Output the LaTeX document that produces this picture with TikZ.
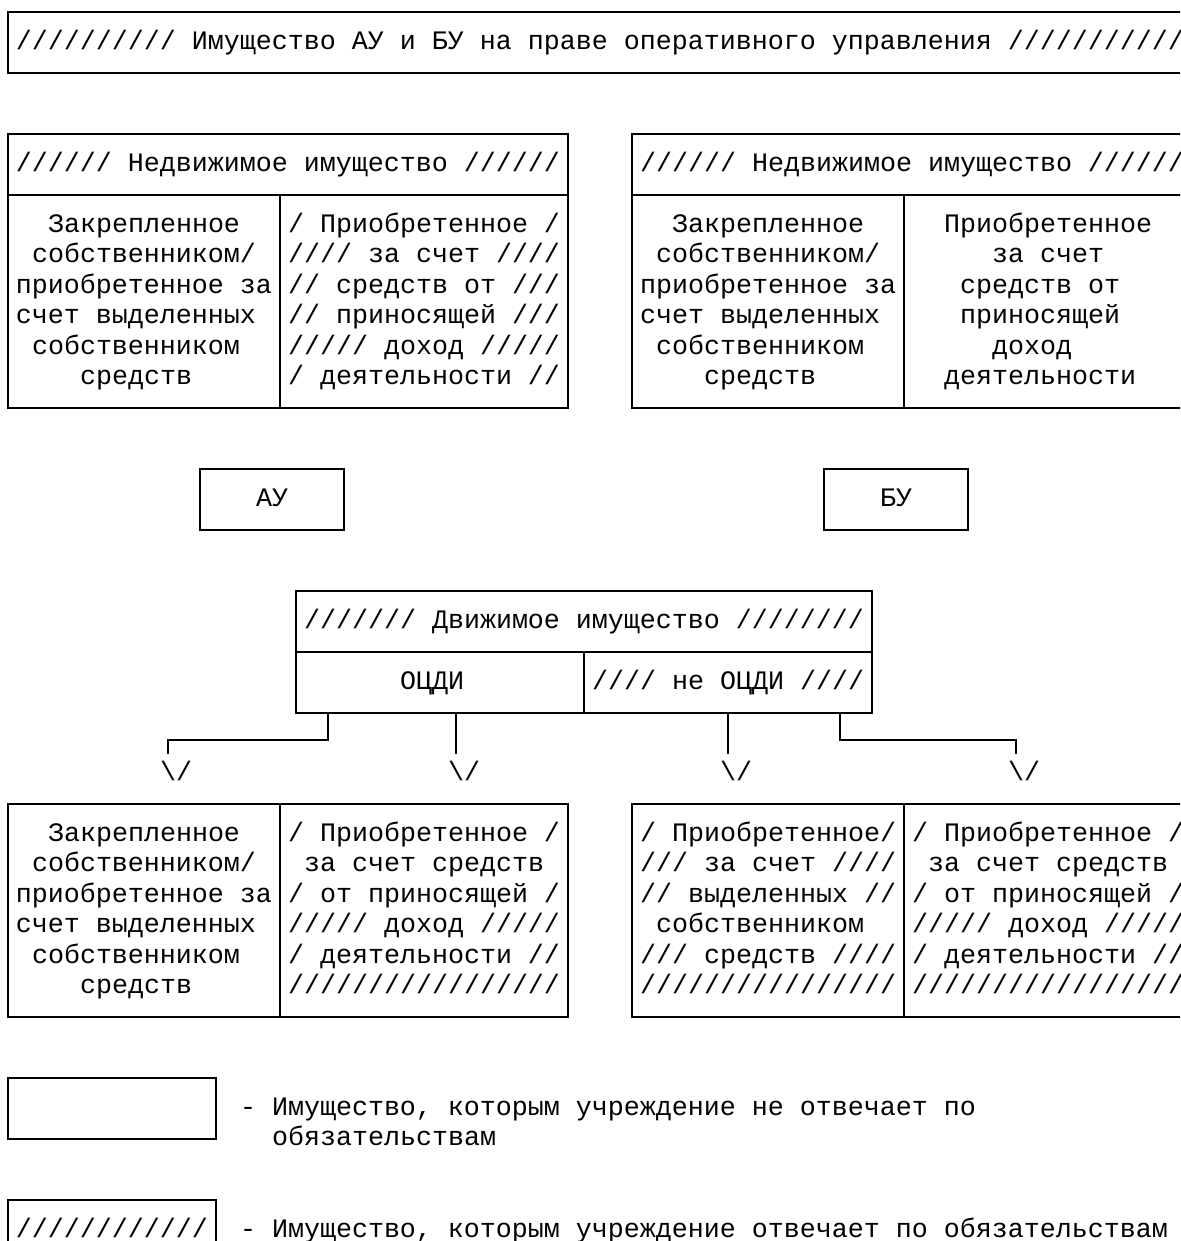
\documentclass[tikz,border=0pt]{standalone}
\usepackage{fontspec}
\newfontfamily\mono{Liberation Mono}
\frenchspacing

% one cell of the table grid: name, col1, row1, col2, row2
\newcommand\cell[5]{%
  \node[box, minimum width={(#4-#2)*8pt}, minimum height={(#5-#3)*15.225pt}]
    (#1) at ({(#2+#4)/2},{(#3+#5)/2}) {};}
% lines of text, one per row: first col, first row, list
\newcommand\rows[3]{%
  \foreach \s [count=\k from 0] in {#3} {
    \node[txt] (t#1-#2-\k) at ({#1-0.5},{#2+\k+0.22}) {\s};
  }}

\begin{document}
\begin{tikzpicture}[x=8pt, y=-15.225pt,
    box/.style={draw, line width=1pt, inner sep=0pt, outer sep=0pt},
    txt/.style={anchor=base west, inner sep=0pt, outer sep=0pt,
      font=\mono\fontsize{13.333pt}{15.225pt}\selectfont},
    conn/.style={line width=1pt}]
    \useasboundingbox (-0.5,-0.41) rectangle (73.25,40.345);
    \fill[white] (-0.5,-0.41) rectangle (73.25,40.345);
    \clip (-0.5,-0.41) rectangle (73.25,40.345);

    \cell{top}{0}{0}{74}{2}
    \rows{1}{1}{{////////// Имущество АУ и БУ на праве оперативного управления ///////////}}

    % immovable property
    \cell{nedvL}{0}{4}{35}{6}
    \cell{nedvLa}{0}{6}{17}{13}
    \cell{nedvLb}{17}{6}{35}{13}
    \rows{1}{5}{////// Недвижимое имущество //////}
    \rows{1}{7}{~~Закрепленное, ~собственником/, приобретенное за,
      счет выделенных, ~собственником, ~~~~средств}
    \rows{18}{7}{/ Приобретенное /, //// за счет ////, // средств от ///,
      // приносящей ///, ///// доход /////, / деятельности //}

    \cell{nedvR}{39}{4}{74}{6}
    \cell{nedvRa}{39}{6}{56}{13}
    \cell{nedvRb}{56}{6}{74}{13}
    \rows{40}{5}{////// Недвижимое имущество //////}
    \rows{40}{7}{~~Закрепленное, ~собственником/, приобретенное за,
      счет выделенных, ~собственником, ~~~~средств}
    \rows{57}{7}{~~Приобретенное, ~~~~~за счет, ~~~средств от,
      ~~~приносящей, ~~~~~доход, ~~деятельности}

    \cell{au}{12}{15}{21}{17}
    \rows{16}{16}{АУ}
    \cell{bu}{51}{15}{60}{17}
    \rows{55}{16}{БУ}

    % movable property
    \cell{dvizh}{18}{19}{54}{21}
    \cell{ocdi}{18}{21}{36}{23}
    \cell{neocdi}{36}{21}{54}{23}
    \rows{19}{20}{/////// Движимое имущество ////////}
    \rows{25}{22}{ОЦДИ}
    \rows{37}{22}{//// не ОЦДИ ////}

    \coordinate (e1) at (10,24.35);
    \coordinate (e2) at (28,24.35);
    \coordinate (e3) at (45,24.35);
    \coordinate (e4) at (63,24.35);
    \draw[conn] ([xshift=16pt]ocdi.south west) -- ++(0,0.9) -| (e1);
    \draw[conn] ([xshift=80pt]ocdi.south west) -- (e2);
    \draw[conn] ([xshift=72pt]neocdi.south west) -- (e3);
    \draw[conn] ([xshift=128pt]neocdi.south west) -- ++(0,0.9) -| (e4);
    \node[txt] (h1) at (9.5,25.22) {\textbackslash/};
    \node[txt] (h2) at (27.5,25.22) {\textbackslash/};
    \node[txt] (h3) at (44.5,25.22) {\textbackslash/};
    \node[txt] (h4) at (62.5,25.22) {\textbackslash/};

    \cell{movLa}{0}{26}{17}{33}
    \cell{movLb}{17}{26}{35}{33}
    \cell{movRa}{39}{26}{56}{33}
    \cell{movRb}{56}{26}{74}{33}
    \rows{1}{27}{~~Закрепленное, ~собственником/, приобретенное за,
      счет выделенных, ~собственником, ~~~~средств}
    \rows{18}{27}{/ Приобретенное /, ~за счет средств, / от приносящей /,
      ///// доход /////, / деятельности //, /////////////////}
    \rows{40}{27}{/ Приобретенное/, /// за счет ////, // выделенных //,
      ~собственником, /// средств ////, ////////////////}
    \rows{57}{27}{/ Приобретенное /, ~за счет средств, / от приносящей /,
      ///// доход /////, / деятельности //, /////////////////}

    % legend
    \cell{key1}{0}{35}{13}{37}
    \node[txt] (k1) at (14.5,36.22) {- Имущество, которым учреждение не отвечает по};
    \node[txt] (k1b) at (16.5,37.22) {обязательствам};
    \cell{key2}{0}{39}{13}{41}
    \rows{1}{40}{////////////}
    \node[txt] (k2) at (14.5,40.22) {- Имущество, которым учреждение отвечает по обязательствам};
\end{tikzpicture}
\end{document}
